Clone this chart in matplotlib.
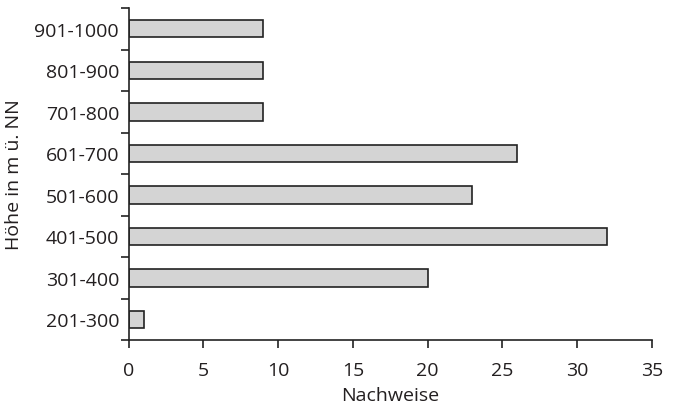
import matplotlib.pyplot as plt
import numpy as np

plt.rcParams['font.family'] = ['Open Sans', 'DejaVu Sans']

# Höhenstufen und Anzahl der Nachweise
categories = ['201-300', '301-400', '401-500', '501-600',
              '601-700', '701-800', '801-900', '901-1000']
counts = [1, 20, 32, 23, 26, 9, 9, 9]

fig = plt.figure(figsize=(6.75, 4.1), dpi=100)
ax = fig.add_axes([0.1907, 0.168, 0.775, 0.810])

y = np.arange(len(categories))
ax.barh(y, counts, height=0.42, color='#d4d4d4', edgecolor='#222222', linewidth=1.2)

ax.set_xlim(0, 35)
ax.set_ylim(-0.5, len(categories) - 0.5)
ax.set_xticks(np.arange(0, 36, 5))
ax.set_yticks(y)
ax.set_yticklabels(categories)
# tick marks between the categories
ax.set_yticks(np.arange(-0.5, len(categories), 1), minor=True)
ax.tick_params(axis='y', which='major', length=0, pad=7)
ax.tick_params(axis='y', which='minor', length=6, width=1.2, color='#222222')
ax.tick_params(axis='x', length=6, width=1.2, color='#222222', pad=9)
ax.tick_params(labelsize=14, labelcolor='#231f20')

for side in ['top', 'right']:
    ax.spines[side].set_visible(False)
for side in ['left', 'bottom']:
    ax.spines[side].set_linewidth(1.2)
    ax.spines[side].set_color('#222222')

ax.set_xlabel('Nachweise', fontsize=14, color='#231f20', labelpad=5)
ax.set_ylabel('Höhe in m ü. NN', fontsize=14, color='#231f20', labelpad=8)

fig.savefig('out.png', dpi=100)
